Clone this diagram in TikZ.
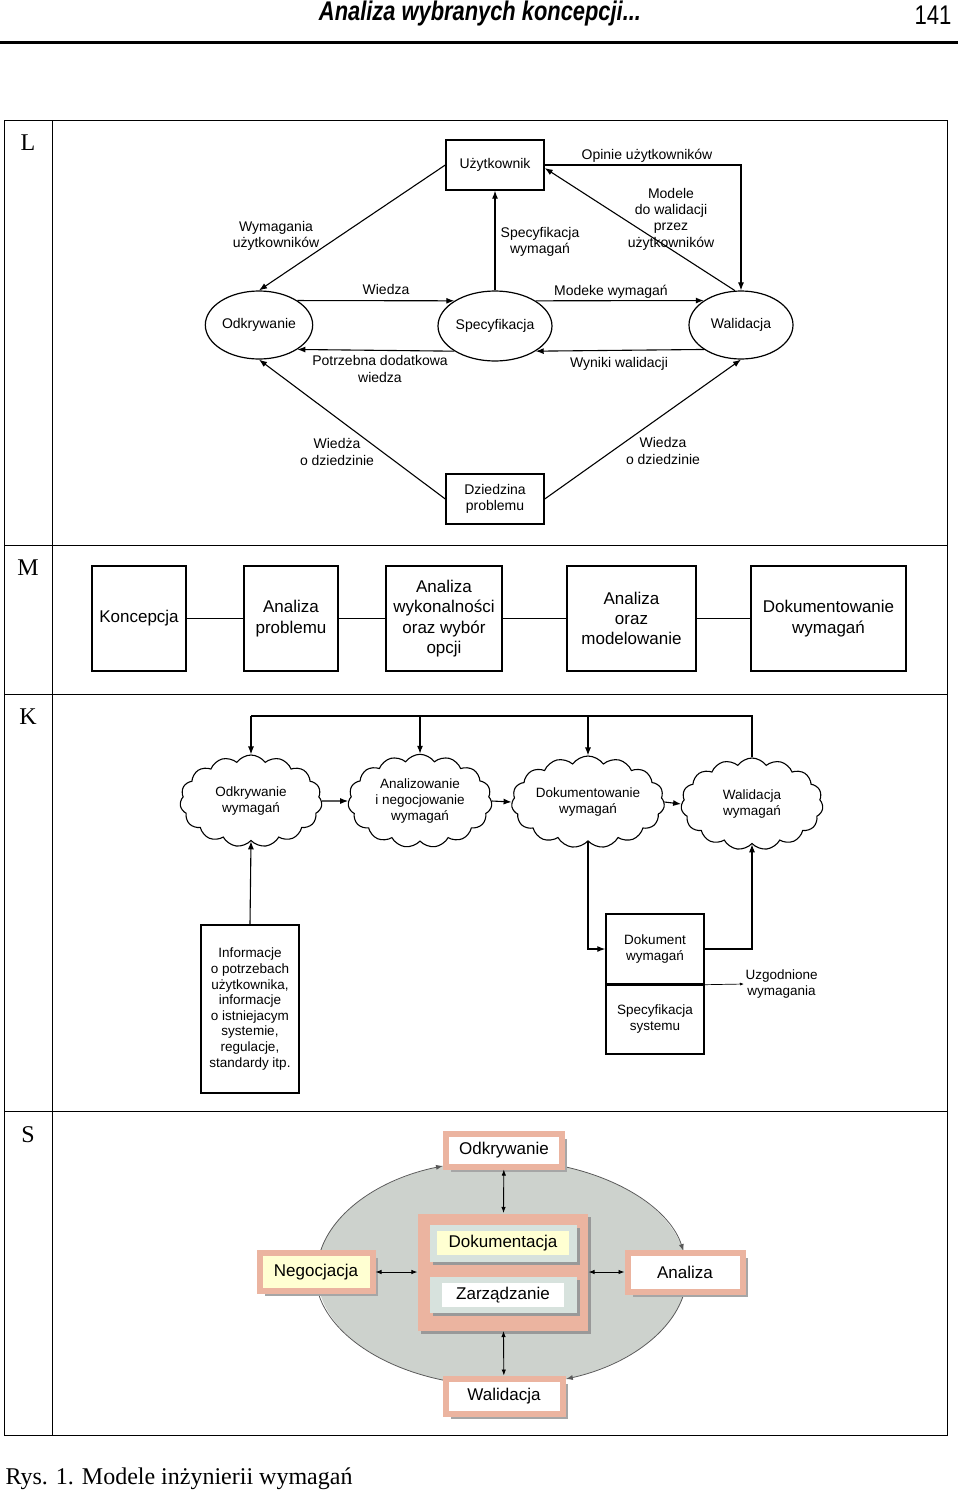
\documentclass[tikz,border=0pt]{standalone}
\usepackage{fontspec}
\setmainfont{Liberation Sans}
\newfontfamily\timesfont{Liberation Serif}
\usetikzlibrary{arrows.meta,shapes.geometric,shapes.symbols,shadows}
\definecolor{peach}{HTML}{EBB4A0}
\definecolor{ovalgray}{HTML}{CDD2CD}
\definecolor{tealgray}{HTML}{D7E2DD}
\definecolor{paleyellow}{HTML}{FFFFD2}
\tikzset{
    every node/.style={align=center, inner sep=1pt}
}
\tikzset{
    arr/.style={-{Latex[length=8pt,width=6pt]}},
    arrsmall/.style={-{Latex[length=4pt,width=3pt]}, line width=0.7pt},
    darr/.style={{Latex[length=6pt,width=4.5pt]}-{Latex[length=6pt,width=4.5pt]}, line width=0.9pt},
    ovalarr/.style={draw=black!65, line width=0.8pt, -{Latex[length=7pt,width=5pt]}},
    lfont/.style={font=\fontsize{14}{16.4}\selectfont},
    mfont/.style={font=\fontsize{17}{20.2}\selectfont},
    kfont/.style={font=\fontsize{13.5}{15.6}\selectfont},
    sfont/.style={font=\fontsize{17}{20}\selectfont},
    rowlab/.style={font=\timesfont\fontsize{24}{28}\selectfont},
    lbox/.style={draw, rectangle, line width=1.4pt, minimum width=98, minimum height=50, lfont},
    lell/.style={draw, ellipse, line width=1.2pt, minimum width=104, minimum height=68, lfont},
    mbox/.style={draw, rectangle, line width=1.4pt, minimum height=105, mfont},
    kbox/.style={draw, rectangle, line width=1.4pt, minimum width=98, kfont},
    kcloud/.style={draw, cloud, cloud puffs=15, cloud puff arc=110, aspect=1.55,
        minimum width=142, minimum height=92, inner sep=0pt, kfont},
    sshadow/.style={drop shadow={shadow xshift=3pt, shadow yshift=-3pt, fill=black!40, opacity=1}},
    sbox/.style={rectangle, draw=peach, line width=6pt, fill=white, sfont,
        drop shadow={shadow xshift=5pt, shadow yshift=-5pt, fill=black!35, opacity=1}}
}

\begin{document}
\begin{tikzpicture}[x=1pt, y=-1pt, line width=1.1pt]
  \useasboundingbox (0,0) rectangle (960,1491);

  % header and frame
  \node (head) [font=\fontsize{27}{30}\selectfont\bfseries\itshape] at (480,14)
    {\scalebox{0.81}[1]{Analiza wybranych koncepcji...}};
  \node (pnum) [font=\fontsize{27}{30}\selectfont] at (933,15) {\scalebox{0.82}[1]{141}};
  \draw [line width=3pt] (0,42) -- (958,42);

  \draw [line width=1pt] (4,120) rectangle (947,1435);
  \draw [line width=1pt] (52,120) -- (52,1435);
  \draw [line width=1pt] (4,545) -- (947,545);
  \draw [line width=1pt] (4,694) -- (947,694);
  \draw [line width=1pt] (4,1111) -- (947,1111);

  \node (rL) [rowlab] at (28,143) {L};
  \node (rM) [rowlab] at (28,568) {M};
  \node (rK) [rowlab] at (28,717) {K};
  \node (rS) [rowlab] at (28,1135) {S};

  % --- L ---
  \node (uzyt) [lbox] at (495,165) {Użytkownik};
  \node (odkr) [lell] at (259,325) {Odkrywanie};
  \node (spec) [lell, minimum width=107, minimum height=70] at (495,326) {Specyfikacja};
  \node (wal) [lell] at (741,325) {Walidacja};
  \node (dzie) [lbox] at (495,499) {Dziedzina\\problemu};

  \draw [arr] (uzyt.west) -- (odkr.north);
  \draw [arr] (spec.north) -- (uzyt.south);
  \draw [arr] (uzyt.east) -| (wal.north);
  \draw [arr] (wal.100) -- ([yshift=-3pt]uzyt.east);
  \draw [arr] (odkr.north east) -- (spec.north west);
  \draw [arr] (spec.north east) -- (wal.north west);
  \draw [arr] (spec.south west) -- (odkr.south east);
  \draw [arr] (wal.south west) -- (spec.south east);
  \draw [arr] (dzie.west) -- (odkr.south);
  \draw [arr] (dzie.east) -- (wal.south);

  \node (lwym) [lfont] at (276,236) {Wymagania\\użytkowników};
  \node (lspw) [lfont] at (540,242) {Specyfikacja\\wymagań};
  \node (lopi) [lfont] at (647,156) {Opinie użytkowników};
  \node (lmod) [lfont] at (671,219) {Modele\\do walidacji\\przez\\użytkowników};
  \node (lwie) [lfont] at (386,289) {Wiedza};
  \node (lmdk) [lfont] at (611,292) {Modeke wymagań};
  \node (lpot) [lfont] at (380,369) {Potrzebna dodatkowa\\wiedza};
  \node (lwyn) [lfont] at (619,364) {Wyniki walidacji};
  \node (ldz1) [lfont] at (337,452) {Wiedża\\o dziedzinie};
  \node (ldz2) [lfont] at (663,451) {Wiedza\\o dziedzinie};

  % --- M ---
  \node (konc) [mbox, minimum width=94] at (139,618.5) {Koncepcja};
  \node (aprob) [mbox, minimum width=94] at (291,618.5) {Analiza\\problemu};
  \node (awyk) [mbox, minimum width=116] at (444,618.5) {Analiza\\wykonalności\\oraz wybór\\opcji};
  \node (amod) [mbox, minimum width=129] at (631.5,618.5) {Analiza\\oraz\\modelowanie};
  \node (dokw) [mbox, minimum width=155] at (828.5,618.5) {Dokumentowanie\\wymagań};

  \draw (konc) edge (aprob) (aprob) edge (awyk) (awyk) edge (amod) (amod) edge (dokw);

  % --- K ---
  \node (codk) [kcloud] at (251,801) {Odkrywanie\\wymagań};
  \node (cana) [kcloud, minimum width=144] at (420,801) {Analizowanie\\i negocjowanie\\wymagań};
  \node (cdok) [kcloud, aspect=2.2, minimum width=153] at (588,802) {Dokumentowanie\\wymagań};
  \node (cwal) [kcloud] at (752,804) {Walidacja\\wymagań};

  \coordinate (busL) at (251,716);
  \coordinate (busA) at (420,716);
  \coordinate (busD) at (588,716);
  \coordinate (busR) at (752,716);
  \draw (cwal.north) -- (busR) -- (busL);
  \draw [arr] (busL) -- (codk.north);
  \draw [arr] (busA) -- (cana.north);
  \draw [arr] (busD) -- (cdok.north);

  \draw [arr] (codk.east) -- (cana.west);
  \draw [arr] (cana.east) -- (cdok.west);
  \draw [arr] (cdok.east) -- (cwal.west);

  \node (info) [kbox, minimum height=168] at (250,1009)
    {Informacje\\o potrzebach\\użytkownika,\\informacje\\o istniejacym\\systemie,\\regulacje,\\standardy itp.};
  \draw [arr] (info.north) -- (codk.south);

  \node (dokum) [kbox, minimum height=70] at (655,949) {Dokument\\wymagań};
  \node (specs) [kbox, minimum height=70] at (655,1019) {Specyfikacja\\systemu};
  \draw [line width=2.6pt] (dokum.south west) -- (dokum.south east);
  \draw [arr] (cdok.south) |- (dokum.west);
  \draw [arr] (dokum.east) -| (cwal.south);

  \coordinate (uzg) at (744,984);
  \draw [arrsmall] (dokum.south east) -- (uzg);
  \node (luzg) [kfont, anchor=west] at (uzg) {Uzgodnione\\wymagania};

  % --- S ---
  \node (oval) [ellipse, fill=ovalgray, minimum width=370, minimum height=226, inner sep=0pt] at (502,1273) {};
  \draw [ovalarr] ([shift={(-169:185 and 113)}]oval.center)
    arc [start angle=-169, end angle=-108.6, x radius=185, y radius=113];
  \draw [ovalarr] ([shift={(-70:185 and 113)}]oval.center)
    arc [start angle=-70, end angle=-11.2, x radius=185, y radius=113];
  \draw [ovalarr] ([shift={(11.7:185 and 113)}]oval.center)
    arc [start angle=11.7, end angle=69.8, x radius=185, y radius=113];
  \draw [ovalarr] ([shift={(108.6:185 and 113)}]oval.center)
    arc [start angle=108.6, end angle=191.7, x radius=185, y radius=113];

  \node (scen) [fill=peach, minimum width=170, minimum height=117, sshadow] at (503,1272) {};
  \node (sdokb) [fill=tealgray, minimum width=147, minimum height=37, sshadow] at (503,1243) {};
  \node (sdok) [sfont, fill=paleyellow, inner xsep=12pt, inner ysep=4pt] at (sdokb) {Dokumentacja};
  \node (szarb) [fill=tealgray, minimum width=147, minimum height=36, sshadow] at (503,1295) {};
  \node (szar) [sfont, fill=white, inner xsep=14pt, inner ysep=4pt] at (szarb) {Zarządzanie};

  \node (sodk) [sbox, minimum width=116, minimum height=33] at (504,1150) {Odkrywanie};
  \node (sneg) [sbox, fill=paleyellow, minimum width=113, minimum height=38] at (316,1272) {Negocjacja};
  \node (sana) [sbox, minimum width=115, minimum height=39] at (685,1272) {Analiza};
  \node (swal) [sbox, minimum width=117, minimum height=35] at (504,1396) {Walidacja};

  \draw [darr] (sodk) -- (scen);
  \draw [darr] (scen) -- (swal);
  \draw [darr] (sneg) -- (scen);
  \draw [darr] (scen) -- (sana);

  % caption
  \node (capt) [font=\timesfont\fontsize{24}{28}\selectfont, anchor=base west, inner sep=0pt] at (5,1484)
    {Rys. 1. Modele inżynierii wymagań};
\end{tikzpicture}
\end{document}
